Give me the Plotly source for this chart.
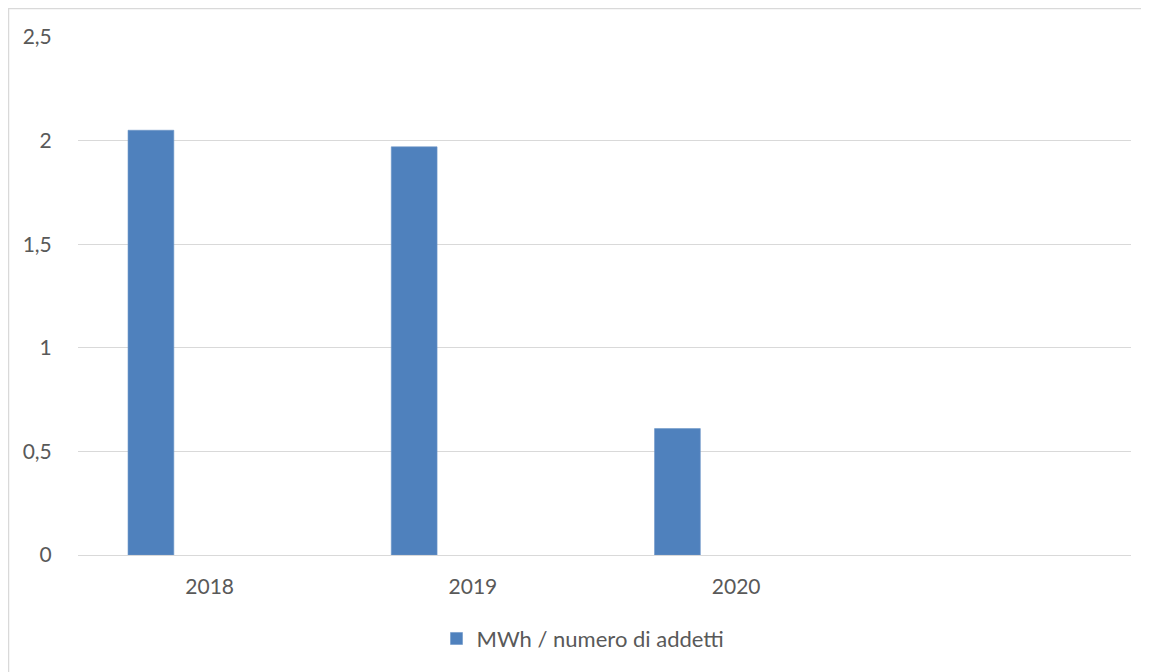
import plotly.graph_objects as go

categories = ["2018", "2019", "2020"]
values = [2.05, 1.97, 0.61]
series_name = "MWh / numero di addetti"
y_ticks = [0, 0.5, 1, 1.5, 2, 2.5]

OFF = 8  # default page body margin
W, H = 1149 - OFF, 672 - OFF
PX0, PX1, PY0, PY1 = 78, 1131, 37, 557  # plot area in page pixels
L, R, T, B = PX0 - OFF, W + OFF - PX1, PY0 - OFF, H + OFF - PY1
pw, ph = PX1 - PX0, PY1 - PY0

def xp(px):
    return (px - PX0) / pw

def yp(py):
    return (PY1 - py) / ph

idx = list(range(len(categories)))

fig = go.Figure()
fig.add_trace(go.Bar(
    x=idx, y=values, name=series_name,
    width=0.174, offset=-0.31,
    marker=dict(color="#4f81bd", line=dict(color="#6c96c8", width=0.6)),
    showlegend=True,
))

font = dict(family="Lato, Open Sans, sans-serif", size=21, color="#595959")
legend_font = dict(family="Lato, Open Sans, sans-serif", size=22, color="#595959")

fig.update_layout(
    width=W, height=H,
    margin=dict(l=L, r=R, t=T, b=B),
    paper_bgcolor="white", plot_bgcolor="white",
    separators=",.",
    font=font,
    showlegend=True,
    legend=dict(orientation="h", x=xp(583), xanchor="center",
                y=yp(641), yanchor="middle",
                font=legend_font, bgcolor="rgba(0,0,0,0)"),
    xaxis=dict(range=[-0.5, 3.5], tickmode="array", tickvals=idx, ticktext=categories,
               showgrid=False, zeroline=False, showline=False,
               ticks="outside", ticklen=13, tickcolor="rgba(0,0,0,0)",
               tickfont=font, fixedrange=True),
    yaxis=dict(range=[0, 2.5], tickmode="array", tickvals=y_ticks,
               showgrid=True, gridcolor="#d9d9d9", gridwidth=1.3,
               zeroline=True, zerolinecolor="#d9d9d9", zerolinewidth=1.3,
               showline=False, ticks="outside", ticklen=21, tickcolor="rgba(0,0,0,0)",
               tickfont=font, fixedrange=True),
    shapes=[
        dict(type="line", xref="paper", yref="paper",
             x0=xp(8.5), x1=xp(8.5), y0=yp(8), y1=yp(700),
             line=dict(color="#d9d9d9", width=1.5), layer="below"),
        dict(type="line", xref="paper", yref="paper",
             x0=xp(8), x1=xp(1200), y0=yp(8.5), y1=yp(8.5),
             line=dict(color="#d9d9d9", width=1.5), layer="below"),
    ],
)

fig.write_html("out.html")
